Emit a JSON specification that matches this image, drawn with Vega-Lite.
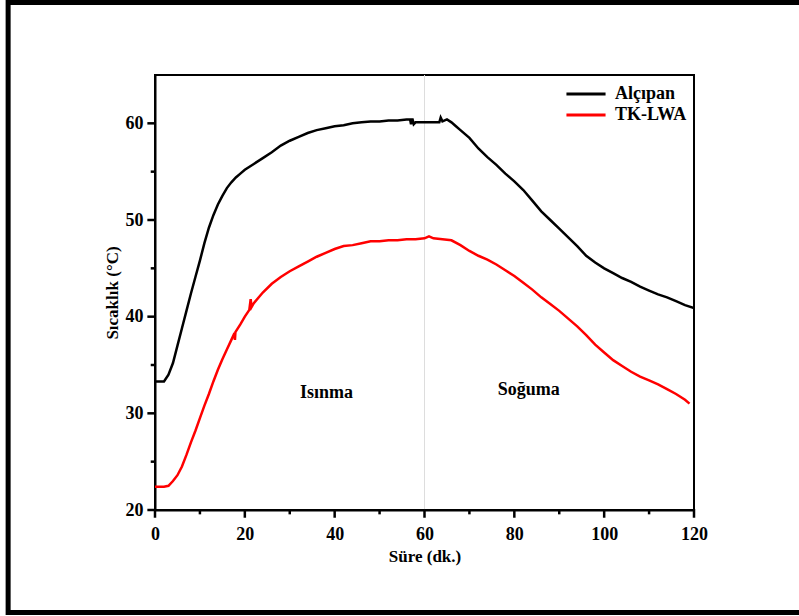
{
  "$schema": "https://vega.github.io/schema/vega-lite/v6.json",
  "autosize": {"type": "none"},
  "width": 539,
  "height": 435,
  "padding": {"left": 155, "top": 75, "right": 105, "bottom": 106},
  "background": "white",
  "config": {
    "view": {"stroke": "black", "strokeWidth": 2},
    "font": "Liberation Serif",
    "axis": {
      "domainColor": "black", "domainWidth": 2, "ticks": false,
      "labelFont": "Liberation Serif", "labelFontWeight": "bold", "labelFontSize": 18, "labelColor": "black",
      "titleFont": "Liberation Serif", "titleFontWeight": "bold", "titleFontSize": 17, "titleColor": "black",
      "grid": false
    }
  },
  "datasets": {
    "frame": [{"k": 1}],
    "xmajor": [{"p": 0}, {"p": 20}, {"p": 40}, {"p": 60}, {"p": 80}, {"p": 100}, {"p": 120}],
    "xminor": [{"p": 10}, {"p": 30}, {"p": 50}, {"p": 70}, {"p": 90}, {"p": 110}],
    "ymajor": [{"p": 20}, {"p": 30}, {"p": 40}, {"p": 50}, {"p": 60}],
    "yminor": [{"p": 25}, {"p": 35}, {"p": 45}, {"p": 55}],
    "temps": [
      {"t": 0, "v": 33.3, "s": "Alçıpan"}, {"t": 1, "v": 33.3, "s": "Alçıpan"}, {"t": 2, "v": 33.3, "s": "Alçıpan"},
      {"t": 3, "v": 34.0, "s": "Alçıpan"}, {"t": 4, "v": 35.2, "s": "Alçıpan"}, {"t": 5, "v": 37.0, "s": "Alçıpan"},
      {"t": 6, "v": 38.8, "s": "Alçıpan"}, {"t": 7, "v": 40.6, "s": "Alçıpan"}, {"t": 8, "v": 42.4, "s": "Alçıpan"},
      {"t": 9, "v": 44.1, "s": "Alçıpan"}, {"t": 10, "v": 45.8, "s": "Alçıpan"}, {"t": 11, "v": 47.6, "s": "Alçıpan"},
      {"t": 12, "v": 49.2, "s": "Alçıpan"}, {"t": 13, "v": 50.5, "s": "Alçıpan"}, {"t": 14, "v": 51.6, "s": "Alçıpan"},
      {"t": 15, "v": 52.5, "s": "Alçıpan"}, {"t": 16, "v": 53.3, "s": "Alçıpan"}, {"t": 17, "v": 53.9, "s": "Alçıpan"},
      {"t": 18, "v": 54.4, "s": "Alçıpan"}, {"t": 19, "v": 54.8, "s": "Alçıpan"}, {"t": 20, "v": 55.2, "s": "Alçıpan"},
      {"t": 22, "v": 55.8, "s": "Alçıpan"}, {"t": 24, "v": 56.4, "s": "Alçıpan"}, {"t": 26, "v": 57.0, "s": "Alçıpan"},
      {"t": 28, "v": 57.7, "s": "Alçıpan"}, {"t": 30, "v": 58.2, "s": "Alçıpan"}, {"t": 32, "v": 58.6, "s": "Alçıpan"},
      {"t": 34, "v": 59.0, "s": "Alçıpan"}, {"t": 36, "v": 59.3, "s": "Alçıpan"}, {"t": 38, "v": 59.5, "s": "Alçıpan"},
      {"t": 40, "v": 59.7, "s": "Alçıpan"}, {"t": 42, "v": 59.8, "s": "Alçıpan"}, {"t": 44, "v": 60.0, "s": "Alçıpan"},
      {"t": 46, "v": 60.1, "s": "Alçıpan"}, {"t": 48, "v": 60.2, "s": "Alçıpan"}, {"t": 50, "v": 60.2, "s": "Alçıpan"},
      {"t": 52, "v": 60.3, "s": "Alçıpan"}, {"t": 54, "v": 60.3, "s": "Alçıpan"}, {"t": 56, "v": 60.4, "s": "Alçıpan"},
      {"t": 56.8, "v": 60.4, "s": "Alçıpan"}, {"t": 57.0, "v": 59.9, "s": "Alçıpan"}, {"t": 57.3, "v": 60.5, "s": "Alçıpan"},
      {"t": 57.6, "v": 59.9, "s": "Alçıpan"}, {"t": 58, "v": 60.1, "s": "Alçıpan"}, {"t": 60, "v": 60.1, "s": "Alçıpan"},
      {"t": 62, "v": 60.1, "s": "Alçıpan"}, {"t": 63.3, "v": 60.1, "s": "Alçıpan"}, {"t": 63.6, "v": 60.6, "s": "Alçıpan"},
      {"t": 64, "v": 60.2, "s": "Alçıpan"}, {"t": 65, "v": 60.4, "s": "Alçıpan"}, {"t": 66, "v": 60.1, "s": "Alçıpan"},
      {"t": 67, "v": 59.7, "s": "Alçıpan"}, {"t": 68, "v": 59.3, "s": "Alçıpan"}, {"t": 70, "v": 58.5, "s": "Alçıpan"},
      {"t": 72, "v": 57.4, "s": "Alçıpan"}, {"t": 74, "v": 56.5, "s": "Alçıpan"}, {"t": 76, "v": 55.7, "s": "Alçıpan"},
      {"t": 78, "v": 54.8, "s": "Alçıpan"}, {"t": 80, "v": 54.0, "s": "Alçıpan"}, {"t": 82, "v": 53.1, "s": "Alçıpan"},
      {"t": 84, "v": 52.0, "s": "Alçıpan"}, {"t": 86, "v": 50.9, "s": "Alçıpan"}, {"t": 88, "v": 50.0, "s": "Alçıpan"},
      {"t": 90, "v": 49.1, "s": "Alçıpan"}, {"t": 92, "v": 48.2, "s": "Alçıpan"}, {"t": 94, "v": 47.3, "s": "Alçıpan"},
      {"t": 96, "v": 46.3, "s": "Alçıpan"}, {"t": 98, "v": 45.6, "s": "Alçıpan"}, {"t": 100, "v": 45.0, "s": "Alçıpan"},
      {"t": 102, "v": 44.5, "s": "Alçıpan"}, {"t": 104, "v": 44.0, "s": "Alçıpan"}, {"t": 106, "v": 43.6, "s": "Alçıpan"},
      {"t": 108, "v": 43.1, "s": "Alçıpan"}, {"t": 110, "v": 42.7, "s": "Alçıpan"}, {"t": 112, "v": 42.3, "s": "Alçıpan"},
      {"t": 114, "v": 42.0, "s": "Alçıpan"}, {"t": 116, "v": 41.6, "s": "Alçıpan"}, {"t": 118, "v": 41.2, "s": "Alçıpan"},
      {"t": 120, "v": 40.9, "s": "Alçıpan"},
      {"t": 0, "v": 22.4, "s": "TK-LWA"}, {"t": 1, "v": 22.4, "s": "TK-LWA"}, {"t": 2, "v": 22.4, "s": "TK-LWA"},
      {"t": 3, "v": 22.5, "s": "TK-LWA"}, {"t": 4, "v": 23.0, "s": "TK-LWA"}, {"t": 5, "v": 23.6, "s": "TK-LWA"},
      {"t": 6, "v": 24.5, "s": "TK-LWA"}, {"t": 7, "v": 25.7, "s": "TK-LWA"}, {"t": 8, "v": 27.0, "s": "TK-LWA"},
      {"t": 9, "v": 28.2, "s": "TK-LWA"}, {"t": 10, "v": 29.5, "s": "TK-LWA"}, {"t": 11, "v": 30.8, "s": "TK-LWA"},
      {"t": 12, "v": 32.0, "s": "TK-LWA"}, {"t": 13, "v": 33.3, "s": "TK-LWA"}, {"t": 14, "v": 34.5, "s": "TK-LWA"},
      {"t": 15, "v": 35.6, "s": "TK-LWA"}, {"t": 16, "v": 36.6, "s": "TK-LWA"}, {"t": 17, "v": 37.6, "s": "TK-LWA"},
      {"t": 17.7, "v": 38.3, "s": "TK-LWA"}, {"t": 17.8, "v": 37.6, "s": "TK-LWA"}, {"t": 17.9, "v": 38.4, "s": "TK-LWA"},
      {"t": 19, "v": 39.2, "s": "TK-LWA"}, {"t": 20, "v": 40.0, "s": "TK-LWA"}, {"t": 21, "v": 40.7, "s": "TK-LWA"},
      {"t": 21.3, "v": 41.8, "s": "TK-LWA"}, {"t": 21.5, "v": 41.0, "s": "TK-LWA"}, {"t": 22, "v": 41.4, "s": "TK-LWA"},
      {"t": 24, "v": 42.5, "s": "TK-LWA"}, {"t": 26, "v": 43.4, "s": "TK-LWA"}, {"t": 28, "v": 44.1, "s": "TK-LWA"},
      {"t": 30, "v": 44.7, "s": "TK-LWA"}, {"t": 32, "v": 45.2, "s": "TK-LWA"}, {"t": 34, "v": 45.7, "s": "TK-LWA"},
      {"t": 36, "v": 46.2, "s": "TK-LWA"}, {"t": 38, "v": 46.6, "s": "TK-LWA"}, {"t": 40, "v": 47.0, "s": "TK-LWA"},
      {"t": 42, "v": 47.3, "s": "TK-LWA"}, {"t": 44, "v": 47.4, "s": "TK-LWA"}, {"t": 46, "v": 47.6, "s": "TK-LWA"},
      {"t": 48, "v": 47.8, "s": "TK-LWA"}, {"t": 50, "v": 47.8, "s": "TK-LWA"}, {"t": 52, "v": 47.9, "s": "TK-LWA"},
      {"t": 54, "v": 47.9, "s": "TK-LWA"}, {"t": 56, "v": 48.0, "s": "TK-LWA"}, {"t": 58, "v": 48.0, "s": "TK-LWA"},
      {"t": 60, "v": 48.1, "s": "TK-LWA"}, {"t": 61, "v": 48.3, "s": "TK-LWA"}, {"t": 62, "v": 48.1, "s": "TK-LWA"},
      {"t": 64, "v": 48.0, "s": "TK-LWA"}, {"t": 66, "v": 47.9, "s": "TK-LWA"}, {"t": 68, "v": 47.4, "s": "TK-LWA"},
      {"t": 70, "v": 46.8, "s": "TK-LWA"}, {"t": 72, "v": 46.3, "s": "TK-LWA"}, {"t": 74, "v": 45.9, "s": "TK-LWA"},
      {"t": 76, "v": 45.4, "s": "TK-LWA"}, {"t": 78, "v": 44.8, "s": "TK-LWA"}, {"t": 80, "v": 44.2, "s": "TK-LWA"},
      {"t": 82, "v": 43.5, "s": "TK-LWA"}, {"t": 84, "v": 42.8, "s": "TK-LWA"}, {"t": 86, "v": 42.0, "s": "TK-LWA"},
      {"t": 88, "v": 41.3, "s": "TK-LWA"}, {"t": 90, "v": 40.6, "s": "TK-LWA"}, {"t": 92, "v": 39.8, "s": "TK-LWA"},
      {"t": 94, "v": 39.0, "s": "TK-LWA"}, {"t": 96, "v": 38.1, "s": "TK-LWA"}, {"t": 98, "v": 37.1, "s": "TK-LWA"},
      {"t": 100, "v": 36.3, "s": "TK-LWA"}, {"t": 102, "v": 35.5, "s": "TK-LWA"}, {"t": 104, "v": 34.9, "s": "TK-LWA"},
      {"t": 106, "v": 34.3, "s": "TK-LWA"}, {"t": 108, "v": 33.8, "s": "TK-LWA"}, {"t": 110, "v": 33.4, "s": "TK-LWA"},
      {"t": 112, "v": 33.0, "s": "TK-LWA"}, {"t": 114, "v": 32.5, "s": "TK-LWA"}, {"t": 116, "v": 32.0, "s": "TK-LWA"},
      {"t": 118, "v": 31.4, "s": "TK-LWA"}, {"t": 119, "v": 31.0, "s": "TK-LWA"}
    ],
    "notes": [
      {"t": 38.2, "v": 32.1, "label": "Isınma"},
      {"t": 83.2, "v": 32.4, "label": "Soğuma"}
    ]
  },
  "layer": [
    {
      "data": {"name": "frame"},
      "mark": {"type": "rect", "filled": false, "color": "black", "strokeWidth": 5, "clip": false},
      "encoding": {
        "x": {"datum": -32.7, "type": "quantitative", "scale": {"domain": [0, 120], "nice": false, "zero": false}},
        "x2": {"datum": 146},
        "y": {"datum": 72.5, "type": "quantitative", "scale": {"domain": [20, 65], "nice": false, "zero": false}},
        "y2": {"datum": 9.4}
      }
    },
    {
      "data": {"name": "frame"},
      "mark": {"type": "rule", "color": "#dddddd", "strokeWidth": 1},
      "encoding": {"x": {"datum": 60, "type": "quantitative"}}
    },
    {
      "data": {"name": "xmajor"},
      "mark": {"type": "rule", "color": "black", "strokeWidth": 2.5, "clip": false},
      "encoding": {
        "x": {"field": "p", "type": "quantitative"},
        "y": {"datum": 20.1, "type": "quantitative"},
        "y2": {"datum": 19.2}
      }
    },
    {
      "data": {"name": "xminor"},
      "mark": {"type": "rule", "color": "black", "strokeWidth": 2.5, "clip": false},
      "encoding": {
        "x": {"field": "p", "type": "quantitative"},
        "y": {"datum": 20.1, "type": "quantitative"},
        "y2": {"datum": 19.55}
      }
    },
    {
      "data": {"name": "ymajor"},
      "mark": {"type": "rule", "color": "black", "strokeWidth": 2.5, "clip": false},
      "encoding": {
        "y": {"field": "p", "type": "quantitative"},
        "x": {"datum": 0.2, "type": "quantitative"},
        "x2": {"datum": -1.7}
      }
    },
    {
      "data": {"name": "yminor"},
      "mark": {"type": "rule", "color": "black", "strokeWidth": 2.5, "clip": false},
      "encoding": {
        "y": {"field": "p", "type": "quantitative"},
        "x": {"datum": 0.2, "type": "quantitative"},
        "x2": {"datum": -0.95}
      }
    },
    {
      "data": {"name": "temps"},
      "mark": {"type": "line", "strokeWidth": 2.5, "clip": true},
      "encoding": {
        "x": {
          "field": "t", "type": "quantitative", "title": "Süre (dk.)",
          "scale": {"domain": [0, 120], "nice": false, "zero": false},
          "axis": {
            "orient": "bottom",
            "values": [0, 20, 40, 60, 80, 100, 120],
            "labelPadding": 15, "titlePadding": 5, "labelFlush": false
          }
        },
        "y": {
          "field": "v", "type": "quantitative", "title": "Sıcaklık (°C)",
          "scale": {"domain": [20, 65], "nice": false, "zero": false},
          "axis": {
            "orient": "left",
            "values": [20, 30, 40, 50, 60],
            "labelPadding": 12, "titlePadding": 4, "labelFlush": false
          }
        },
        "color": {
          "field": "s", "type": "nominal",
          "scale": {"domain": ["Alçıpan", "TK-LWA"], "range": ["#000000", "#ff0000"]},
          "legend": {
            "title": null, "orient": "none", "legendX": 422, "legendY": 10, "padding": 0,
            "symbolType": "M-3,0H3", "symbolSize": 170, "symbolStrokeWidth": 3,
            "labelFont": "Liberation Serif", "labelFontWeight": "bold", "labelFontSize": 18, "labelColor": "black",
            "rowPadding": 3, "labelOffset": 20
          }
        }
      }
    },
    {
      "data": {"name": "notes"},
      "mark": {"type": "text", "font": "Liberation Serif", "fontWeight": "bold", "fontSize": 18, "color": "black"},
      "encoding": {
        "x": {"field": "t", "type": "quantitative"},
        "y": {"field": "v", "type": "quantitative"},
        "text": {"field": "label"}
      }
    }
  ]
}
